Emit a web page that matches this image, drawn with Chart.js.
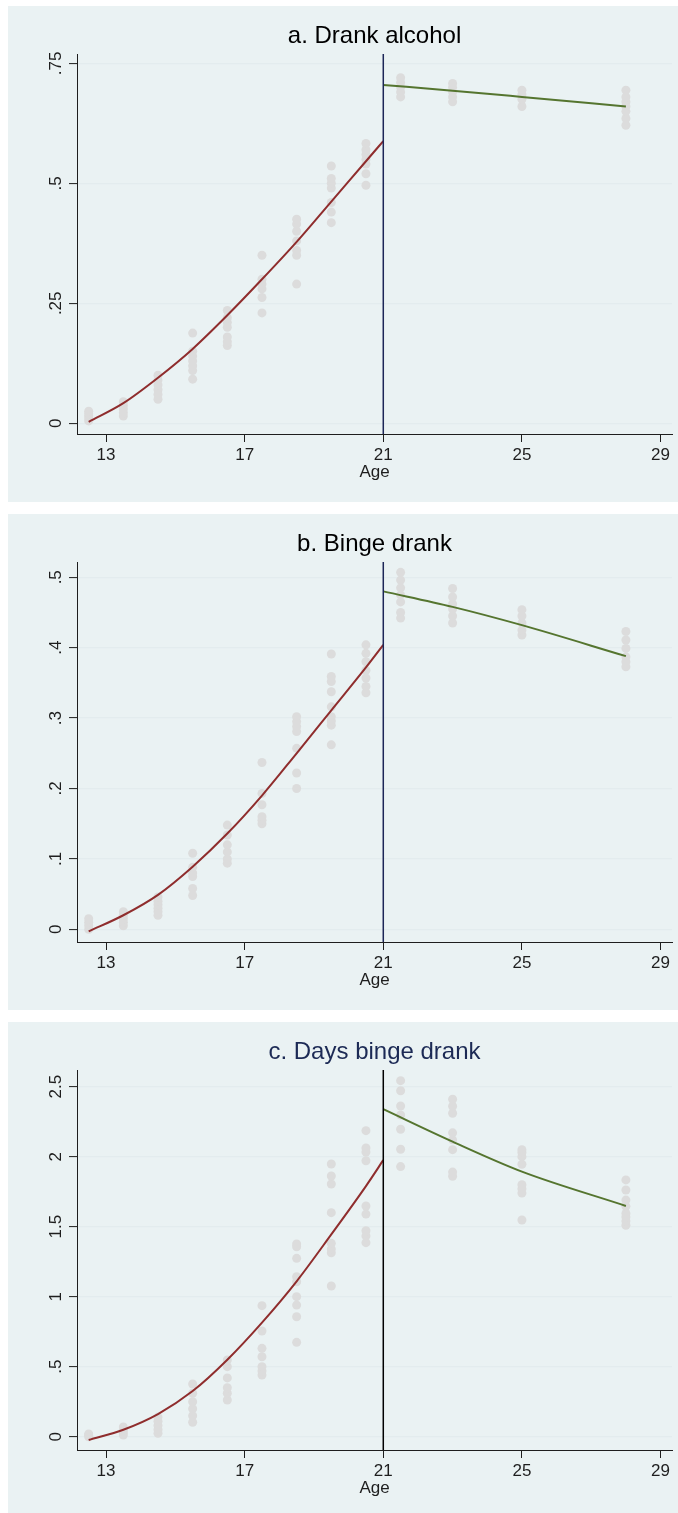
<!DOCTYPE html>
<html><head><meta charset="utf-8">
<script src="https://cdn.jsdelivr.net/npm/chart.js@4.4.1/dist/chart.umd.min.js"></script>
<style>
html,body{margin:0;padding:0;background:#fff;width:678px;height:1513px;overflow:hidden;}
.panel{position:absolute;left:8px;width:670px;height:496px;background:#EAF2F3;}
canvas{display:block;}
</style></head><body>
<div class="panel" style="top:6px"><canvas id="cA" width="670" height="496"></canvas></div>
<div class="panel" style="top:514px"><canvas id="cB" width="670" height="496"></canvas></div>
<div class="panel" style="top:1022px"><canvas id="cC" width="670" height="496"></canvas></div>
<script>
// ---------- data ----------
const ageGroups = [12.5, 13.5, 14.5, 15.5, 16.5, 17.5, 18.5, 19.5, 20.5, 21.5, 23, 25, 28];

const drankAlcoholPts = [
  [0.005, 0.01, 0.015, 0.02, 0.025],
  [0.015, 0.022, 0.03, 0.037, 0.045],
  [0.05, 0.06, 0.07, 0.08, 0.09, 0.1],
  [0.092, 0.11, 0.12, 0.13, 0.14, 0.15, 0.188],
  [0.162, 0.17, 0.18, 0.2, 0.21, 0.22, 0.235],
  [0.23, 0.262, 0.28, 0.29, 0.3, 0.35],
  [0.29, 0.35, 0.36, 0.38, 0.4, 0.415, 0.425],
  [0.418, 0.44, 0.46, 0.49, 0.5, 0.51, 0.536],
  [0.496, 0.52, 0.54, 0.55, 0.56, 0.57, 0.583],
  [0.68, 0.69, 0.7, 0.71, 0.72],
  [0.67, 0.68, 0.69, 0.7, 0.708],
  [0.66, 0.675, 0.685, 0.694],
  [0.621, 0.635, 0.65, 0.66, 0.67, 0.68, 0.694]
];
const bingeDrankPts = [
  [0.0, 0.005, 0.01, 0.015],
  [0.005, 0.01, 0.015, 0.02, 0.025],
  [0.02, 0.025, 0.03, 0.035, 0.04, 0.046],
  [0.048, 0.058, 0.075, 0.08, 0.088, 0.108],
  [0.094, 0.1, 0.11, 0.12, 0.134, 0.148],
  [0.15, 0.155, 0.16, 0.177, 0.193, 0.237],
  [0.2, 0.222, 0.257, 0.281, 0.288, 0.295, 0.302],
  [0.262, 0.29, 0.296, 0.302, 0.316, 0.3375, 0.352, 0.359, 0.391],
  [0.336, 0.345, 0.357, 0.368, 0.38, 0.392, 0.404],
  [0.442, 0.45, 0.465, 0.475, 0.485, 0.496, 0.507],
  [0.435, 0.445, 0.455, 0.462, 0.472, 0.484],
  [0.418, 0.425, 0.435, 0.445, 0.454],
  [0.373, 0.38, 0.387, 0.399, 0.411, 0.423]
];
const daysBingePts = [
  [0.0, 0.01, 0.02],
  [0.012, 0.03, 0.05, 0.07],
  [0.025, 0.05, 0.08, 0.11, 0.14],
  [0.103, 0.15, 0.2, 0.25, 0.31, 0.376],
  [0.262, 0.31, 0.35, 0.42, 0.5, 0.548],
  [0.44, 0.47, 0.5, 0.571, 0.631, 0.755, 0.936],
  [0.674, 0.857, 0.94, 1.0, 1.107, 1.143, 1.274, 1.357, 1.376],
  [1.076, 1.314, 1.34, 1.381, 1.6, 1.805, 1.862, 1.948],
  [1.386, 1.434, 1.471, 1.59, 1.648, 1.971, 2.033, 2.062, 2.186],
  [1.929, 2.053, 2.196, 2.298, 2.362, 2.471, 2.543],
  [1.86, 1.89, 2.05, 2.12, 2.17, 2.31, 2.36, 2.41],
  [1.548, 1.74, 1.77, 1.8, 1.946, 2.0, 2.03, 2.05],
  [1.51, 1.54, 1.57, 1.595, 1.645, 1.69, 1.762, 1.834]
];

const fitAgesBefore = [12.5, 13.5, 14.5, 15.5, 16.5, 17.5, 18.5, 19.5, 20.5, 21];
const fitAgesAfter = [21, 23, 25, 28];
const drankFitBefore = [0.003, 0.042, 0.095, 0.155, 0.225, 0.300, 0.378, 0.462, 0.546, 0.588];
const drankFitAfter = [0.705, 0.693, 0.680, 0.660];
const bingeFitBefore = [-0.003, 0.02, 0.049, 0.089, 0.136, 0.190, 0.250, 0.311, 0.372, 0.404];
const bingeFitAfter = [0.480, 0.458, 0.432, 0.388];
const daysFitBefore = [-0.024, 0.05, 0.162, 0.326, 0.55, 0.815, 1.11, 1.445, 1.79, 1.975];
const daysFitAfter = [2.339, 2.107, 1.893, 1.648];

const cutoffAge = 21;
const xTickValues = [13, 17, 21, 25, 29];
const drankTicks = [0, 0.25, 0.5, 0.75];
const drankTickLabels = ["0", ".25", ".5", ".75"];
const bingeTicks = [0, 0.1, 0.2, 0.3, 0.4, 0.5];
const bingeTickLabels = ["0", ".1", ".2", ".3", ".4", ".5"];
const daysTicks = [0, 0.5, 1, 1.5, 2, 2.5];
const daysTickLabels = ["0", ".5", "1", "1.5", "2", "2.5"];

// ---------- chart helpers ----------
const FONT = '"Liberation Sans", Arial, Helvetica, sans-serif';
const AXIS = '#1e1e1e';

const rotatedYLabels = {
  id: 'rotatedYLabels',
  afterDraw(chart, args, opts) {
    const ys = chart.scales.y, ctx = chart.ctx;
    ctx.save();
    ctx.fillStyle = AXIS;
    ctx.font = opts.size + 'px ' + FONT;
    ctx.textAlign = 'center';
    ctx.textBaseline = 'middle';
    opts.values.forEach((v, i) => {
      const y = ys.getPixelForValue(v);
      ctx.save();
      ctx.translate(opts.x, y);
      ctx.rotate(-Math.PI / 2);
      ctx.fillText(opts.labels[i], 0, 0);
      ctx.restore();
    });
    ctx.restore();
  }
};

function scatterData(pts) {
  const out = [];
  ageGroups.forEach((a, i) => pts[i].forEach(v => out.push({x: a, y: v})));
  return out;
}
function lineData(xs, ys) { return xs.map((x, i) => ({x: x, y: ys[i]})); }

function makeChart(id, cfg) {
  new Chart(document.getElementById(id), {
    type: 'scatter',
    data: {
      datasets: [
        { data: scatterData(cfg.pts), pointRadius: 4.5, pointBackgroundColor: '#dcdcdc',
          pointBorderWidth: 0, showLine: false, order: 5 },
        { data: lineData(fitAgesBefore, cfg.fitBefore), showLine: true, borderColor: '#8f2d2d',
          borderWidth: 2, pointRadius: 0, cubicInterpolationMode: 'monotone', order: 2 },
        { data: lineData(fitAgesAfter, cfg.fitAfter), showLine: true, borderColor: '#55752f',
          borderWidth: 2, pointRadius: 0, cubicInterpolationMode: 'monotone', order: 2 },
        { data: [{x: cutoffAge, y: cfg.yMin}, {x: cutoffAge, y: cfg.yMax}], showLine: true,
          borderColor: cfg.vColor, borderWidth: 1.5, pointRadius: 0, order: 1 }
      ]
    },
    options: {
      responsive: false, animation: false, events: [],
      layout: { padding: { top: 6, left: 0, right: 6, bottom: 0 } },
      plugins: {
        legend: { display: false }, tooltip: { enabled: false },
        title: { display: true, text: cfg.title, fullSize: false, align: 'center',
                 color: cfg.titleColor, font: { family: FONT, size: 24, weight: 'normal' },
                 padding: { top: 10, bottom: 3.2 } },
        rotatedYLabels: { values: cfg.ticks, labels: cfg.tickLabels, x: 48, size: 17 }
      },
      scales: {
        x: {
          type: 'linear', min: 12.163, max: 29.33,
          afterBuildTicks: s => { s.ticks = xTickValues.map(v => ({value: v})); },
          afterFit: s => { s.height = 68; },
          grid: { drawOnChartArea: false, drawTicks: true, tickLength: 8, tickColor: AXIS, tickWidth: 1 },
          border: { display: true, color: AXIS, width: 1 },
          ticks: { color: AXIS, font: { family: FONT, size: 17 }, padding: 3, maxRotation: 0, autoSkip: false },
          title: { display: true, text: 'Age', color: AXIS, font: { family: FONT, size: 17 },
                   padding: { top: 0, bottom: 19.8 } }
        },
        y: {
          type: 'linear', min: cfg.yMin, max: cfg.yMax,
          afterBuildTicks: s => { s.ticks = cfg.ticks.map(v => ({value: v})); },
          afterFit: s => { s.width = 69; },
          grid: { color: '#e3ecee', lineWidth: 1.2, drawTicks: true, tickLength: 8, tickColor: AXIS, tickWidth: 1 },
          border: { display: true, color: AXIS, width: 1 },
          ticks: { display: false }
        }
      }
    },
    plugins: [rotatedYLabels]
  });
}

makeChart('cA', { title: 'a. Drank alcohol', titleColor: '#000', pts: drankAlcoholPts,
  fitBefore: drankFitBefore, fitAfter: drankFitAfter, yMin: -0.0223, yMax: 0.7694,
  ticks: drankTicks, tickLabels: drankTickLabels, vColor: '#1c2657' });
makeChart('cB', { title: 'b. Binge drank', titleColor: '#000', pts: bingeDrankPts,
  fitBefore: bingeFitBefore, fitAfter: bingeFitAfter, yMin: -0.018, yMax: 0.5217,
  ticks: bingeTicks, tickLabels: bingeTickLabels, vColor: '#1c2657' });
makeChart('cC', { title: 'c. Days binge drank', titleColor: '#1c2a55', pts: daysBingePts,
  fitBefore: daysFitBefore, fitAfter: daysFitAfter, yMin: -0.095, yMax: 2.619,
  ticks: daysTicks, tickLabels: daysTickLabels, vColor: '#000' });
</script>
</body></html>
